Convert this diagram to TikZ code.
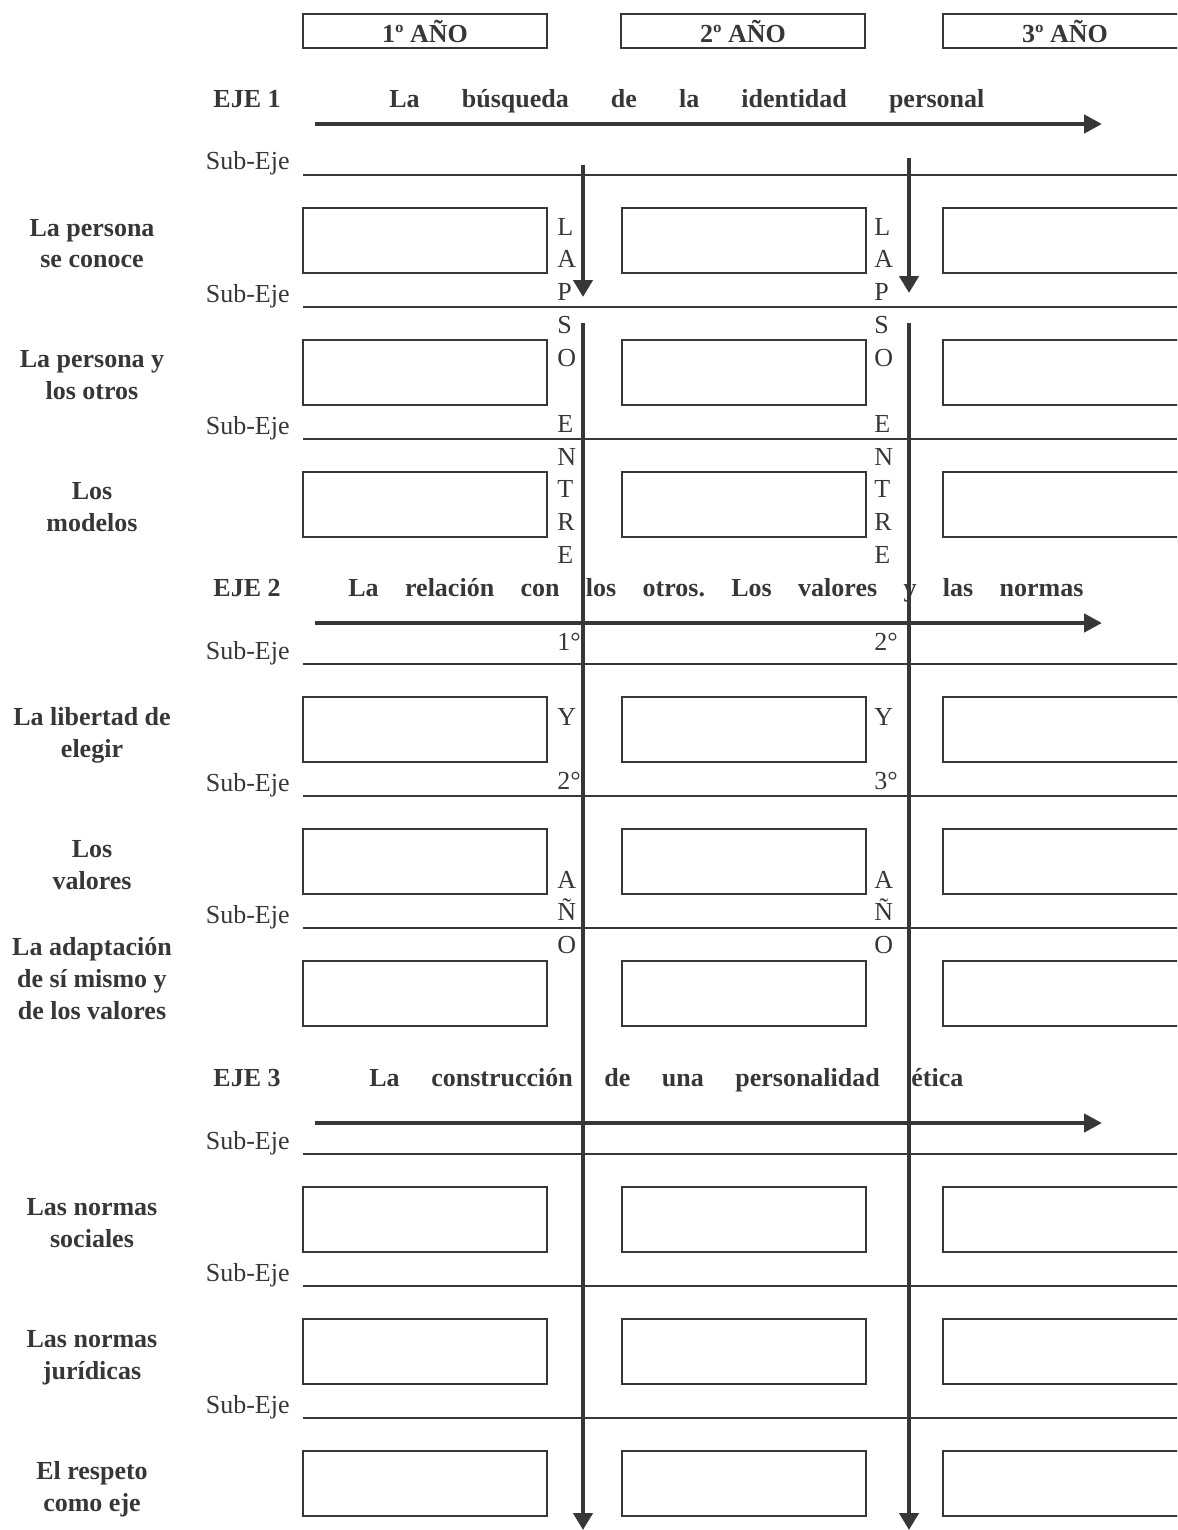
\documentclass[tikz,border=0pt]{standalone}
\usepackage{fontspec}
\setmainfont{Liberation Serif}
\usetikzlibrary{arrows.meta}
\definecolor{ink}{RGB}{55,55,58}
\tikzset{
  head/.style={draw=ink,line width=1.2pt,minimum width=122pt,minimum height=17pt,inner sep=0pt,
    text=ink,font=\fontsize{13}{16}\selectfont\bfseries},
  cell/.style={draw=ink,line width=1pt},
  rule/.style={draw=ink,line width=1pt},
  axis/.style={draw=ink,line width=2.4pt,-{Triangle[length=9pt,width=9pt]}},
  lapse/.style={draw=ink,line width=2.4pt,-{Triangle[length=8.5pt,width=9.5pt]}},
  topic/.style={anchor=base,align=center,inner sep=0pt,text=ink,font=\fontsize{13}{16}\selectfont\bfseries},
  eje/.style={anchor=base,inner sep=0pt,text=ink,font=\fontsize{13}{16}\selectfont\bfseries\frenchspacing},
  sub/.style={anchor=base east,inner sep=0pt,text=ink,font=\fontsize{13}{16}\selectfont},
  letter/.style={anchor=base west,inner sep=0pt,text=ink,font=\fontsize{13}{16}\selectfont}
}
\begin{document}
\begin{tikzpicture}[x=0.5pt,y=-0.5pt]
  \useasboundingbox (0,0) rectangle (1177,1530);
  \clip (0,0) rectangle (1177,1530);
  % years
  \node[head] (y1) at (425,31) {1º AÑO};
  \node[head] (y2) at (743,31) {2º AÑO};
  \node[head] (y3) at (1065,31) {3º AÑO};
  % sub-axes with their boxes
  \foreach \yy [count=\i] in {175,307,439,664,796,928,1154,1286,1418} {
    \node[sub] (s\i) at (290,\yy-5) {Sub-Eje};
    \draw[rule] (303,\yy) -- (1177,\yy);
    \foreach \xx in {303,622,943}
      \draw[cell] (\xx,\yy+33) rectangle ++(244,65);
  }
  % base of a topic = baseline of its last line
  \node[topic] (t1) at (92,268) {La persona\\se conoce};
  \node[topic] (t2) at (92,399) {La persona y\\los otros};
  \node[topic] (t3) at (92,531) {Los\\modelos};
  \node[topic] (t4) at (92,757) {La libertad de\\elegir};
  \node[topic] (t5) at (92,889) {Los\\valores};
  \node[topic] (t6) at (92,1019) {La adaptación\\de sí mismo y\\de los valores};
  \node[topic] (t7) at (92,1247) {Las normas\\sociales};
  \node[topic] (t8) at (92,1379) {Las normas\\jurídicas};
  \node[topic] (t9) at (92,1511) {El respeto\\como eje};
  % axes
  \node[eje] (e1) at (247,108) {EJE 1};
  \node[eje,anchor=base west] (l1) at (389,108)
    {\makebox[297.5pt][s]{La búsqueda de la identidad personal}};
  \node[eje] (e2) at (247,596) {EJE 2};
  \node[eje,anchor=base west] (l2) at (348,596)
    {\makebox[367.5pt][s]{La relación con los otros. Los valores y las normas}};
  \node[eje] (e3) at (247,1086) {EJE 3};
  \node[eje,anchor=base west] (l3) at (369,1086)
    {\makebox[297pt][s]{La construcción de una personalidad ética}};
  \coordinate (h1a) at (315,124);  \coordinate (h1b) at (1102,124);
  \coordinate (h2a) at (315,623);  \coordinate (h2b) at (1102,623);
  \coordinate (h3a) at (315,1123); \coordinate (h3b) at (1102,1123);
  \draw[axis] (h1a) -- (h1b);
  \draw[axis] (h2a) -- (h2b);
  \draw[axis] (h3a) -- (h3b);
  % lapses between years
  \foreach \xx/\a/\b [count=\k] in {557/1/2,874/2/3}
    \foreach \ch/\yy [count=\i] in {L/235,A/268,P/300,S/333,O/366,E/432,N/465,T/497,R/530,E/563,
        \a°/650,Y/725,\b°/789,A/888,Ñ/920,O/953}
      \node[letter] (c\k-\i) at (\xx,\yy) {\ch};
  \coordinate (v1a) at (583,165); \coordinate (v1b) at (583,297);
  \coordinate (v1c) at (583,323); \coordinate (v1d) at (583,1530);
  \coordinate (v2a) at (909,158); \coordinate (v2b) at (909,293);
  \coordinate (v2c) at (909,323); \coordinate (v2d) at (909,1530);
  \draw[lapse] (v1a) -- (v1b);
  \draw[lapse] (v1c) -- (v1d);
  \draw[lapse] (v2a) -- (v2b);
  \draw[lapse] (v2c) -- (v2d);
\end{tikzpicture}
\end{document}
